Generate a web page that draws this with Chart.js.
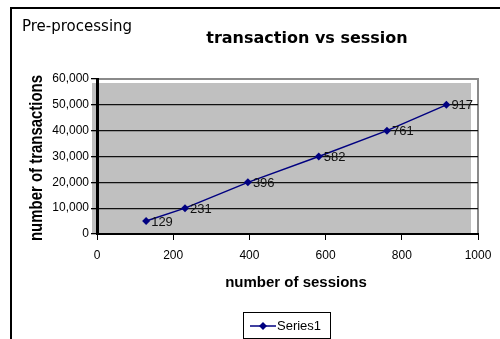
<!DOCTYPE html>
<html>
<head>
<meta charset="utf-8">
<script src="https://cdn.jsdelivr.net/npm/chart.js@4/dist/chart.umd.min.js"></script>
<style>
html, body { margin: 0; padding: 0; background: #fff; }
</style>
</head>
<body>
<canvas id="myChart" width="500" height="339"></canvas>
<script>
// data
let sessions = [129, 231, 396, 582, 761, 917];
let transactions = [5000, 10000, 20000, 30000, 40000, 50000];
let xTicks = [0, 200, 400, 600, 800, 1000];
let yTicks = [0, 10000, 20000, 30000, 40000, 50000, 60000];
let seriesName = 'Series1';
let chartTitle = 'transaction vs session';
let cornerText = 'Pre-processing';
let xTitle = 'number of sessions';
let yTitle = 'number of transactions';

let navy = '#000080';
let sans = "'Liberation Sans', Arial, sans-serif";
let dejavu = "'DejaVu Sans', Verdana, sans-serif";

Chart.defaults.font.family = sans;
Chart.defaults.color = '#000';

// background, outer border, grey plot area
const framePlugin = {
    id: 'frame',
    beforeDraw(chart) {
        const ctx = chart.ctx;
        const a = chart.chartArea;
        ctx.save();
        ctx.fillStyle = '#fff';
        ctx.fillRect(0, 0, chart.width, chart.height);
        // outer black border (top + left)
        ctx.fillStyle = '#000';
        ctx.fillRect(10, 7, chart.width - 10, 2);
        ctx.fillRect(10, 7, 2, chart.height - 7);
        // grey fill, a bit shifted like the original
        ctx.fillStyle = '#c0c0c0';
        ctx.fillRect(a.left - 5, a.top + 4, a.right - a.left - 2, a.bottom - a.top - 4);
        // grey frame
        ctx.strokeStyle = '#8a8a8a';
        ctx.lineWidth = 2;
        ctx.strokeRect(a.left, a.top, a.right - a.left, a.bottom - a.top);
        ctx.restore();
    }
};

// titles, point labels and legend
const textPlugin = {
    id: 'texts',
    afterDraw(chart) {
        const ctx = chart.ctx;
        ctx.save();
        ctx.fillStyle = '#000';
        ctx.textBaseline = 'middle';

        ctx.font = '15px ' + dejavu;
        ctx.textAlign = 'left';
        ctx.fillText(cornerText, 22, 27);

        ctx.font = 'bold 16px ' + dejavu;
        ctx.textAlign = 'center';
        ctx.fillText(chartTitle, 307, 39);

        ctx.font = 'bold 15px ' + sans;
        ctx.fillText(xTitle, 296, 283);

        // vertical, squeezed axis title
        ctx.save();
        ctx.translate(37, 158);
        ctx.rotate(-Math.PI / 2);
        ctx.font = 'bold 18px ' + sans;
        ctx.fillText(yTitle, 0, 0, 166);
        ctx.restore();

        // labels next to the points
        const meta = chart.getDatasetMeta(0);
        ctx.font = '13px ' + sans;
        ctx.textAlign = 'left';
        ctx.fillStyle = '#111';
        meta.data.forEach((pt, i) => {
            ctx.fillText(String(sessions[i]), pt.x + 5, pt.y + 1);
        });

        // legend box
        const lx = 243, ly = 312, lw = 87, lh = 26;
        ctx.fillStyle = '#fff';
        ctx.fillRect(lx, ly, lw, lh);
        ctx.strokeStyle = '#000';
        ctx.lineWidth = 1;
        ctx.strokeRect(lx + 0.5, ly + 0.5, lw, lh);
        ctx.strokeStyle = navy;
        ctx.lineWidth = 1.5;
        ctx.beginPath();
        ctx.moveTo(250, 326);
        ctx.lineTo(276, 326);
        ctx.stroke();
        ctx.fillStyle = navy;
        ctx.beginPath();
        ctx.moveTo(263, 322);
        ctx.lineTo(267, 326);
        ctx.lineTo(263, 330);
        ctx.lineTo(259, 326);
        ctx.closePath();
        ctx.fill();
        ctx.fillStyle = '#000';
        ctx.font = '13px ' + sans;
        ctx.fillText(chart.data.datasets[0].label, 277, 326);
        ctx.restore();
    }
};

let points = sessions.map((s, i) => ({ x: s, y: transactions[i] }));

let chart = new Chart('myChart', {
    type: 'line',
    data: {
        datasets: [{
            label: seriesName,
            data: points,
            borderColor: navy,
            backgroundColor: navy,
            borderWidth: 1.5,
            pointStyle: 'rectRot',
            pointRadius: 4,
            pointBorderWidth: 0,
            tension: 0
        }]
    },
    options: {
        responsive: false,
        animation: false,
        devicePixelRatio: 1,
        layout: { padding: { top: 79, right: 22, left: 0, bottom: 0 } },
        plugins: {
            legend: { display: false },
            tooltip: { enabled: false }
        },
        scales: {
            x: {
                type: 'linear',
                min: xTicks[0],
                max: xTicks[xTicks.length - 1],
                afterBuildTicks: s => { s.ticks = xTicks.map(v => ({ value: v })); },
                afterFit: s => { s.height = 105; },
                ticks: {
                    font: { size: 12 },
                    padding: 8,
                    callback: v => String(v)
                },
                grid: { drawOnChartArea: false, tickLength: 6, color: '#000', lineWidth: 1 },
                border: { color: '#000', width: 2 }
            },
            y: {
                type: 'linear',
                min: yTicks[0],
                max: yTicks[yTicks.length - 1],
                afterBuildTicks: s => { s.ticks = yTicks.map(v => ({ value: v })); },
                afterFit: s => { s.width = 97; },
                ticks: {
                    font: { size: 12 },
                    padding: 2,
                    callback: v => v.toLocaleString('en-US')
                },
                grid: {
                    color: c => (c.tick && (c.tick.value === 0 || c.tick.value === 60000)) ? 'rgba(0,0,0,0)' : '#111',
                    tickColor: '#000',
                    tickLength: 6,
                    lineWidth: 1.3
                },
                border: { color: '#000', width: 3 }
            }
        }
    },
    plugins: [framePlugin, textPlugin]
});
</script>
</body>
</html>
